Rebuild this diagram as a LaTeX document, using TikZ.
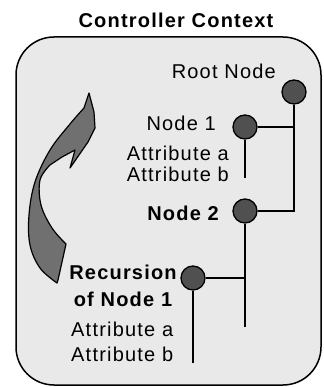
\documentclass[tikz,border=0pt]{standalone}
\usepackage{fontspec}
\setmainfont[LetterSpace=6]{Liberation Sans}
\usepackage{tikz}

\definecolor{panelgray}{RGB}{233,233,233}
\definecolor{dotgray}{RGB}{80,80,80}
\definecolor{swooshgray}{RGB}{112,112,112}

\begin{document}
\begin{tikzpicture}[x=1pt,y=-1pt]
        \tikzstyle{every node}+=[inner sep=0pt]
        \tikzstyle{panel}=[draw=black, fill=panelgray, line width=1.5pt, rounded corners=38pt]
        \tikzstyle{dot}=[circle, draw=black, fill=dotgray, line width=1.3pt, minimum size=24pt]
        \tikzstyle{wire}=[black, line width=1.6pt]
        \tikzstyle{lbl}=[font=\fontsize{20}{21}\selectfont]
        \tikzstyle{bold lbl}=[font=\fontsize{20}{27}\selectfont\bfseries]
        \tikzstyle{swoosh}=[draw=black, fill=swooshgray, line width=1.2pt, line join=round]
        \useasboundingbox (0,0) rectangle (323,387);
        \node[bold lbl] (title) at (176,20) {Controller Context};
        \draw[panel] (16,37) rectangle (321,385);
        % curved arrow on the left
        \filldraw[swoosh] (57,283) -- plot[smooth, tension=.6] coordinates {(57,283) (40,268) (30,245) (29,215) (35,182) (50,150) (70,124) (84,108)}
            -- (89,93) -- (94,112) -- (95,128) -- (88,142) -- (70,168) -- (75,150) -- (62,157)
            -- plot[smooth, tension=.6] coordinates {(50,165) (40,180) (41,205) (52,228) (66,244)} -- (58,280) -- cycle;
        % tree
        \node[dot] (root) at (294,92) {};
        \node[dot] (n1) at (245,127) {};
        \node[dot] (n2) at (245,211) {};
        \node[dot] (rec) at (193,278) {};
        \coordinate (n1end) at (245,178);
        \coordinate (n2end) at (245,327);
        \coordinate (recend) at (193,363);
        \draw[wire] (root) |- (n2);
        \draw[wire] (n1) -- (n1 -| root);
        \draw[wire] (n1) -- (n1end);
        \draw[wire] (n2) -- (n2end);
        \draw[wire] (rec) -- (rec -| n2);
        \draw[wire] (rec) -- (recend);
        % labels
        \node[lbl, anchor=east] (rootlbl) at (276,71) {Root Node};
        \node[lbl, anchor=east] (n1lbl) at (216,123) {Node 1};
        \node[lbl, anchor=east, align=right] (n1attr) at (229,164) {Attribute a\\Attribute b};
        \node[bold lbl, anchor=east] (n2lbl) at (219,213) {Node 2};
        \node[bold lbl, align=center] (reclbl) at (123,286) {Recursion\\of Node 1};
        \node[lbl, anchor=west, align=left, font=\fontsize{20}{24.5}\selectfont] (recattr) at (71,342) {Attribute a\\Attribute b};
    \end{tikzpicture}
\end{document}
